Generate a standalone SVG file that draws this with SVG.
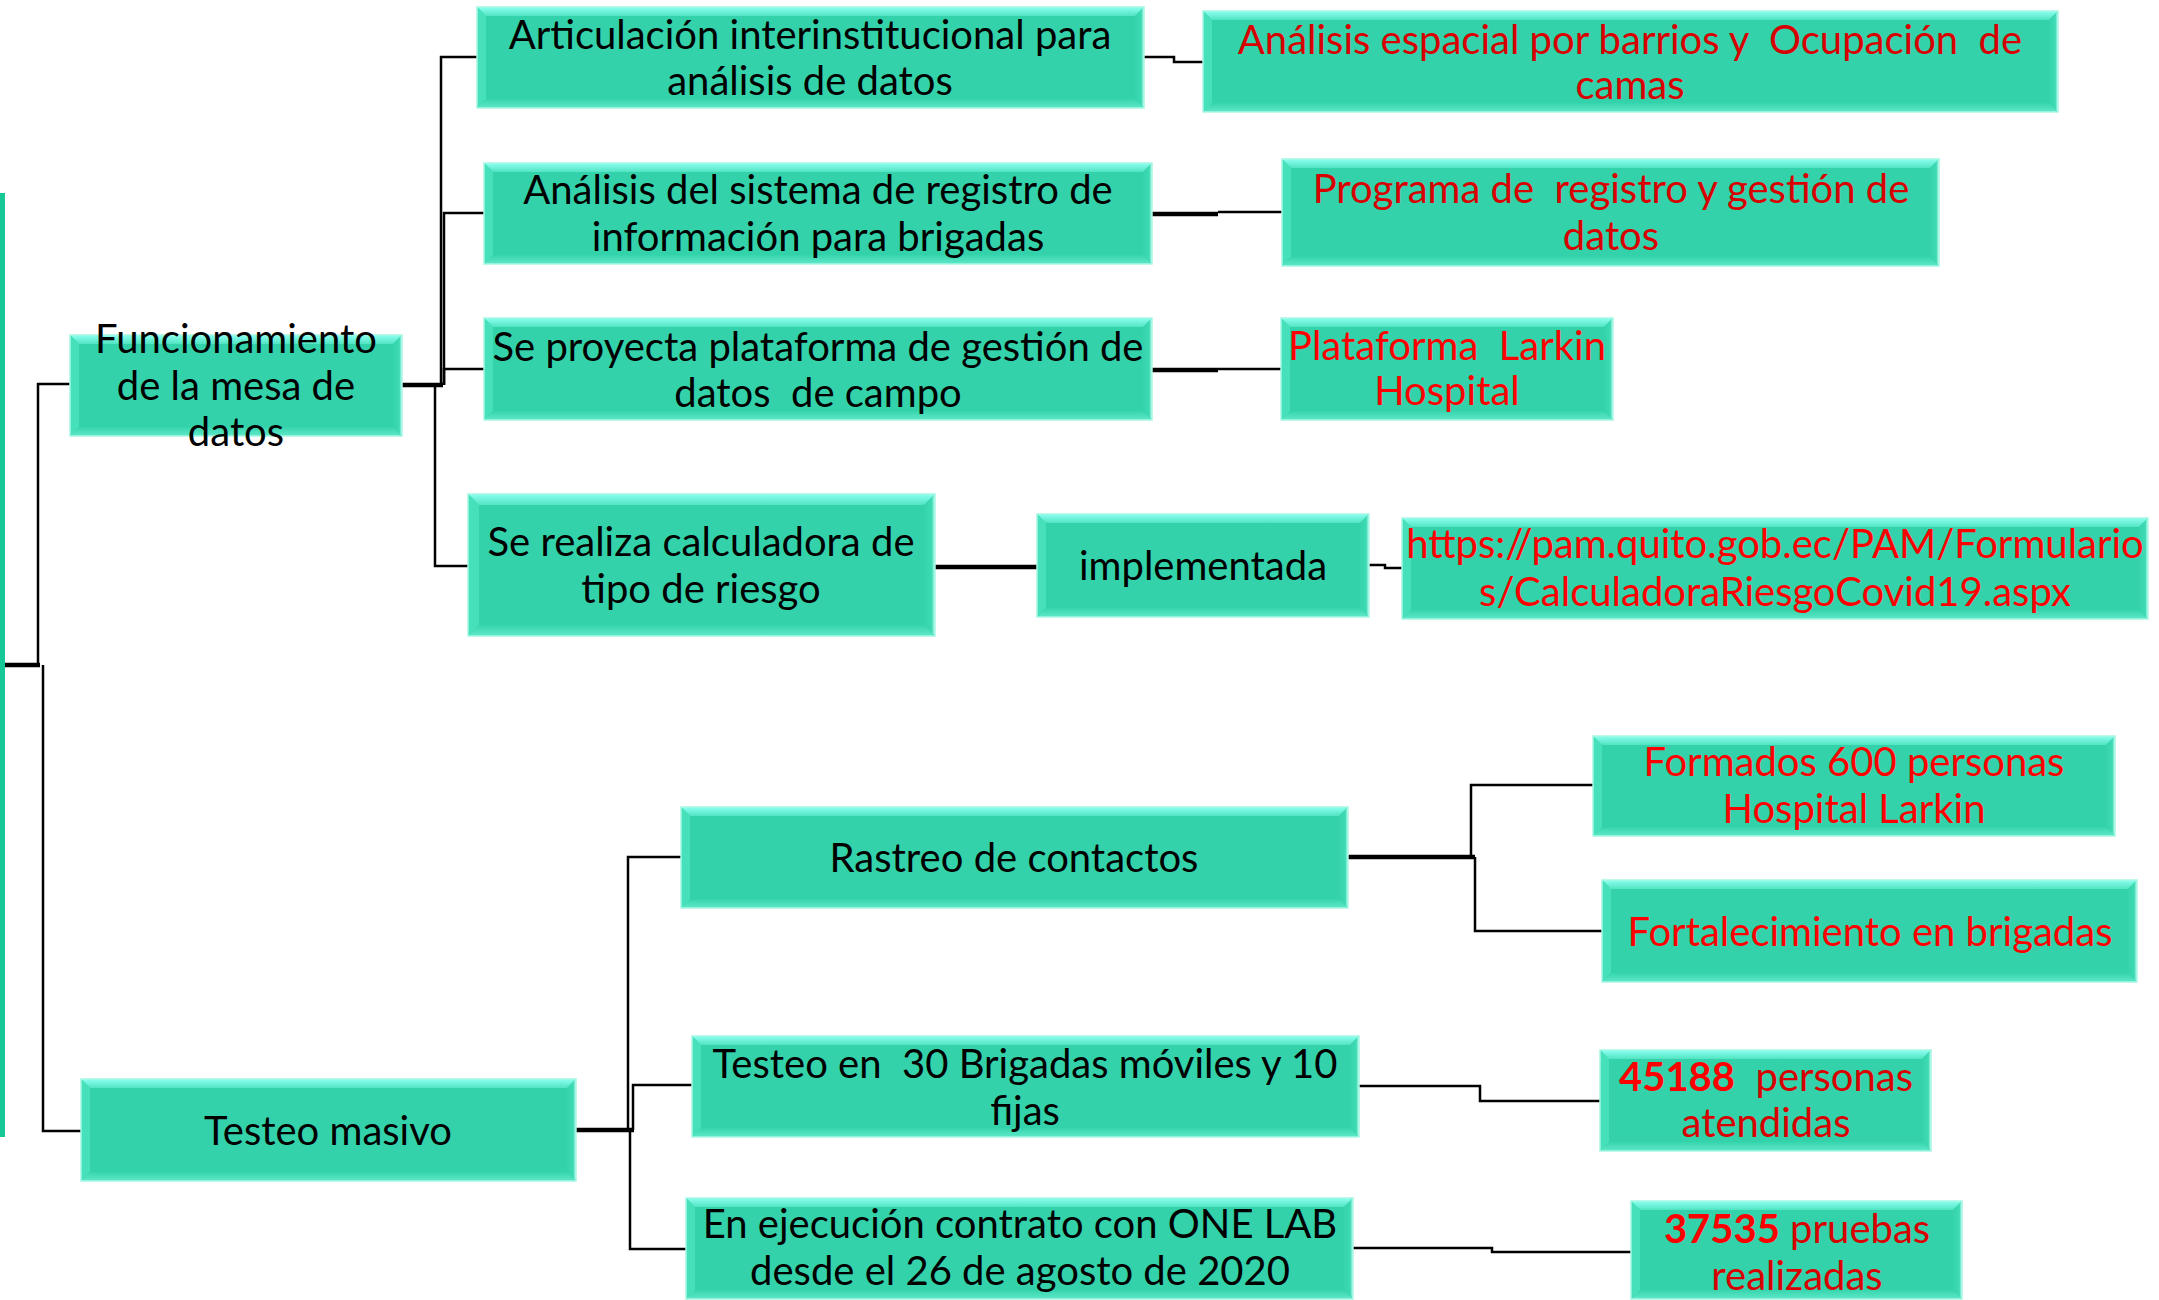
<svg xmlns="http://www.w3.org/2000/svg" width="2159" height="1300" viewBox="0 0 2159 1300">
<defs>
<linearGradient id="gt" x1="0" y1="0" x2="0" y2="1"><stop offset="0" stop-color="#8CFFF1"/><stop offset="1" stop-color="#52E4C2"/></linearGradient>
<linearGradient id="gr" x1="0" y1="0" x2="1" y2="0"><stop offset="0" stop-color="#35D4AC"/><stop offset="0.7" stop-color="#3DDAB3"/><stop offset="1" stop-color="#C8FFF6"/></linearGradient>
<linearGradient id="gb" x1="0" y1="0" x2="0" y2="1"><stop offset="0" stop-color="#36D5AD"/><stop offset="1" stop-color="#5FE8C8"/></linearGradient>
<style>
.face{fill:#33D2AA}
.bt{fill:url(#gt)}
.bl{fill:#46E0BB}
.br{fill:url(#gr)}
.bb{fill:url(#gb)}
.edge{fill:none;stroke:#A6F7E5;stroke-width:1.5}
.c{fill:none;stroke:#000;stroke-width:2.5}
.ck{fill:none;stroke:#000;stroke-width:4.5}
text{font-family:Lato,"Liberation Sans",sans-serif;font-size:40px;text-anchor:middle;white-space:pre}
.k{fill:#000}
.r{fill:#FF0000}
.rd{fill:#D80000}
.b{font-weight:bold}
</style>
</defs>
<rect x="0" y="193" width="5" height="944" fill="#17C897"/>
<g id="connectors">
<path class="ck" d="M5,665 H40"/>
<path class="c" d="M38,665 V384 H70"/>
<path class="c" d="M43,665 V1131 H81"/>
<path class="ck" d="M402,385 H443"/>
<path class="c" d="M441,385 V57 H477"/>
<path class="c" d="M444,385 V213 H484"/>
<path class="c" d="M444,385 V369 H484"/>
<path class="c" d="M435,385 V566 H468"/>
<path class="c" d="M1144,57 H1174 V62 H1203"/>
<path class="ck" d="M1152,214 H1218"/>
<path class="c" d="M1218,212 H1282"/>
<path class="ck" d="M1152,370 H1218"/>
<path class="c" d="M1218,369 H1281"/>
<path class="ck" d="M935,567 H1037"/>
<path class="c" d="M1369,565 H1385 V568 H1402"/>
<path class="ck" d="M1348,857 H1475"/>
<path class="c" d="M1471,857 V785 H1593"/>
<path class="c" d="M1475,857 V931 H1602"/>
<path class="ck" d="M576,1130 H634"/>
<path class="c" d="M628,1130 V857 H681"/>
<path class="c" d="M633,1130 V1085 H692"/>
<path class="c" d="M630,1130 V1249 H686"/>
<path class="c" d="M1359,1086 H1480 V1101 H1600"/>
<path class="c" d="M1353,1248 H1492 V1252 H1631"/>
</g>
<g id="n1">
<rect class="face" x="477" y="7" width="667" height="101"/>
<polygon class="bt" points="477,7 1144,7 1135,16 486,16"/>
<polygon class="bl" points="477,7 486,16 486,99 477,108"/>
<polygon class="br" points="1144,7 1144,108 1135,99 1135,16"/>
<polygon class="bb" points="477,108 486,99 1135,99 1144,108"/>
<rect class="edge" x="477" y="7" width="667" height="101"/>
<text class="k" transform="translate(0,3)"><tspan x="810" y="46">Articulación interinstitucional para</tspan><tspan x="810" y="92">análisis de datos</tspan></text>
</g>
<g id="n2">
<rect class="face" x="484" y="163" width="668" height="101"/>
<polygon class="bt" points="484,163 1152,163 1143,172 493,172"/>
<polygon class="bl" points="484,163 493,172 493,255 484,264"/>
<polygon class="br" points="1152,163 1152,264 1143,255 1143,172"/>
<polygon class="bb" points="484,264 493,255 1143,255 1152,264"/>
<rect class="edge" x="484" y="163" width="668" height="101"/>
<text class="k" transform="translate(0,3)"><tspan x="818" y="201">Análisis del sistema de registro de</tspan><tspan x="818" y="248">información para brigadas</tspan></text>
</g>
<g id="n3">
<rect class="face" x="484" y="318" width="668" height="102"/>
<polygon class="bt" points="484,318 1152,318 1143,327 493,327"/>
<polygon class="bl" points="484,318 493,327 493,411 484,420"/>
<polygon class="br" points="1152,318 1152,420 1143,411 1143,327"/>
<polygon class="bb" points="484,420 493,411 1143,411 1152,420"/>
<rect class="edge" x="484" y="318" width="668" height="102"/>
<text class="k" transform="translate(0,3)"><tspan x="818" y="358">Se proyecta plataforma de gestión de</tspan><tspan x="818" y="404">datos  de campo</tspan></text>
</g>
<g id="n4">
<rect class="face" x="70" y="335" width="332" height="101"/>
<polygon class="bt" points="70,335 402,335 393,344 79,344"/>
<polygon class="bl" points="70,335 79,344 79,427 70,436"/>
<polygon class="br" points="402,335 402,436 393,427 393,344"/>
<polygon class="bb" points="70,436 79,427 393,427 402,436"/>
<rect class="edge" x="70" y="335" width="332" height="101"/>
<text class="k" transform="translate(0,3)"><tspan x="236" y="350">Funcionamiento</tspan><tspan x="236" y="397">de la mesa de</tspan><tspan x="236" y="443">datos</tspan></text>
</g>
<g id="n5">
<rect class="face" x="468" y="494" width="467" height="142"/>
<polygon class="bt" points="468,494 935,494 924,505 479,505"/>
<polygon class="bl" points="468,494 479,505 479,625 468,636"/>
<polygon class="br" points="935,494 935,636 924,625 924,505"/>
<polygon class="bb" points="468,636 479,625 924,625 935,636"/>
<rect class="edge" x="468" y="494" width="467" height="142"/>
<text class="k" transform="translate(0,3)"><tspan x="701" y="553">Se realiza calculadora de</tspan><tspan x="701" y="600">tipo de riesgo</tspan></text>
</g>
<g id="n6">
<rect class="face" x="1037" y="514" width="332" height="103"/>
<polygon class="bt" points="1037,514 1369,514 1360,523 1046,523"/>
<polygon class="bl" points="1037,514 1046,523 1046,608 1037,617"/>
<polygon class="br" points="1369,514 1369,617 1360,608 1360,523"/>
<polygon class="bb" points="1037,617 1046,608 1360,608 1369,617"/>
<rect class="edge" x="1037" y="514" width="332" height="103"/>
<text class="k" x="1203" y="580">implementada</text>
</g>
<g id="n7">
<rect class="face" x="1402" y="518" width="746" height="101"/>
<polygon class="bt" points="1402,518 2148,518 2139,527 1411,527"/>
<polygon class="bl" points="1402,518 1411,527 1411,610 1402,619"/>
<polygon class="br" points="2148,518 2148,619 2139,610 2139,527"/>
<polygon class="bb" points="1402,619 1411,610 2139,610 2148,619"/>
<rect class="edge" x="1402" y="518" width="746" height="101"/>
<text class="r" transform="translate(0,3)"><tspan x="1775" y="555">https://pam.quito.gob.ec/PAM/Formulario</tspan><tspan x="1775" y="603">s/CalculadoraRiesgoCovid19.aspx</tspan></text>
</g>
<g id="n8">
<rect class="face" x="1203" y="11" width="855" height="101"/>
<polygon class="bt" points="1203,11 2058,11 2049,20 1212,20"/>
<polygon class="bl" points="1203,11 1212,20 1212,103 1203,112"/>
<polygon class="br" points="2058,11 2058,112 2049,103 2049,20"/>
<polygon class="bb" points="1203,112 1212,103 2049,103 2058,112"/>
<rect class="edge" x="1203" y="11" width="855" height="101"/>
<text class="rd" transform="translate(0,3)"><tspan x="1630" y="51">Análisis espacial por barrios y  Ocupación  de</tspan><tspan x="1630" y="96">camas</tspan></text>
</g>
<g id="n9">
<rect class="face" x="1282" y="159" width="657" height="107"/>
<polygon class="bt" points="1282,159 1939,159 1930,168 1291,168"/>
<polygon class="bl" points="1282,159 1291,168 1291,257 1282,266"/>
<polygon class="br" points="1939,159 1939,266 1930,257 1930,168"/>
<polygon class="bb" points="1282,266 1291,257 1930,257 1939,266"/>
<rect class="edge" x="1282" y="159" width="657" height="107"/>
<text class="rd" transform="translate(0,3)"><tspan x="1611" y="200">Programa de  registro y gestión de</tspan><tspan x="1611" y="247">datos</tspan></text>
</g>
<g id="n10">
<rect class="face" x="1281" y="318" width="332" height="102"/>
<polygon class="bt" points="1281,318 1613,318 1604,327 1290,327"/>
<polygon class="bl" points="1281,318 1290,327 1290,411 1281,420"/>
<polygon class="br" points="1613,318 1613,420 1604,411 1604,327"/>
<polygon class="bb" points="1281,420 1290,411 1604,411 1613,420"/>
<rect class="edge" x="1281" y="318" width="332" height="102"/>
<text class="r" transform="translate(0,3)"><tspan x="1447" y="357">Plataforma  Larkin</tspan><tspan x="1447" y="402">Hospital</tspan></text>
</g>
<g id="n11">
<rect class="face" x="681" y="807" width="667" height="101"/>
<polygon class="bt" points="681,807 1348,807 1339,816 690,816"/>
<polygon class="bl" points="681,807 690,816 690,899 681,908"/>
<polygon class="br" points="1348,807 1348,908 1339,899 1339,816"/>
<polygon class="bb" points="681,908 690,899 1339,899 1348,908"/>
<rect class="edge" x="681" y="807" width="667" height="101"/>
<text class="k" x="1014" y="872">Rastreo de contactos</text>
</g>
<g id="n12">
<rect class="face" x="1593" y="736" width="522" height="100"/>
<polygon class="bt" points="1593,736 2115,736 2106,745 1602,745"/>
<polygon class="bl" points="1593,736 1602,745 1602,827 1593,836"/>
<polygon class="br" points="2115,736 2115,836 2106,827 2106,745"/>
<polygon class="bb" points="1593,836 1602,827 2106,827 2115,836"/>
<rect class="edge" x="1593" y="736" width="522" height="100"/>
<text class="r" transform="translate(0,3)"><tspan x="1854" y="773">Formados 600 personas</tspan><tspan x="1854" y="820">Hospital Larkin</tspan></text>
</g>
<g id="n13">
<rect class="face" x="1602" y="880" width="535" height="102"/>
<polygon class="bt" points="1602,880 2137,880 2128,889 1611,889"/>
<polygon class="bl" points="1602,880 1611,889 1611,973 1602,982"/>
<polygon class="br" points="2137,880 2137,982 2128,973 2128,889"/>
<polygon class="bb" points="1602,982 1611,973 2128,973 2137,982"/>
<rect class="edge" x="1602" y="880" width="535" height="102"/>
<text class="r" x="1870" y="946">Fortalecimiento en brigadas</text>
</g>
<g id="n14">
<rect class="face" x="81" y="1079" width="495" height="102"/>
<polygon class="bt" points="81,1079 576,1079 567,1088 90,1088"/>
<polygon class="bl" points="81,1079 90,1088 90,1172 81,1181"/>
<polygon class="br" points="576,1079 576,1181 567,1172 567,1088"/>
<polygon class="bb" points="81,1181 90,1172 567,1172 576,1181"/>
<rect class="edge" x="81" y="1079" width="495" height="102"/>
<text class="k" x="328" y="1145">Testeo masivo</text>
</g>
<g id="n15">
<rect class="face" x="692" y="1036" width="667" height="101"/>
<polygon class="bt" points="692,1036 1359,1036 1350,1045 701,1045"/>
<polygon class="bl" points="692,1036 701,1045 701,1128 692,1137"/>
<polygon class="br" points="1359,1036 1359,1137 1350,1128 1350,1045"/>
<polygon class="bb" points="692,1137 701,1128 1350,1128 1359,1137"/>
<rect class="edge" x="692" y="1036" width="667" height="101"/>
<text class="k" transform="translate(0,3)"><tspan x="1025" y="1075">Testeo en  30 Brigadas móviles y 10</tspan><tspan x="1025" y="1122">fijas</tspan></text>
</g>
<g id="n16">
<rect class="face" x="1600" y="1050" width="331" height="101"/>
<polygon class="bt" points="1600,1050 1931,1050 1922,1059 1609,1059"/>
<polygon class="bl" points="1600,1050 1609,1059 1609,1142 1600,1151"/>
<polygon class="br" points="1931,1050 1931,1151 1922,1142 1922,1059"/>
<polygon class="bb" points="1600,1151 1609,1142 1922,1142 1931,1151"/>
<rect class="edge" x="1600" y="1050" width="331" height="101"/>
<text transform="translate(0,3)"><tspan x="1766" y="1088"><tspan class="r b">45188</tspan><tspan class="rd">  personas</tspan></tspan><tspan class="rd" x="1766" y="1134">atendidas</tspan></text>
</g>
<g id="n17">
<rect class="face" x="686" y="1198" width="667" height="101"/>
<polygon class="bt" points="686,1198 1353,1198 1344,1207 695,1207"/>
<polygon class="bl" points="686,1198 695,1207 695,1290 686,1299"/>
<polygon class="br" points="1353,1198 1353,1299 1344,1290 1344,1207"/>
<polygon class="bb" points="686,1299 695,1290 1344,1290 1353,1299"/>
<rect class="edge" x="686" y="1198" width="667" height="101"/>
<text class="k" transform="translate(0,3)"><tspan x="1020" y="1235">En ejecución contrato con ONE LAB</tspan><tspan x="1020" y="1282">desde el 26 de agosto de 2020</tspan></text>
</g>
<g id="n18">
<rect class="face" x="1631" y="1201" width="331" height="98"/>
<polygon class="bt" points="1631,1201 1962,1201 1953,1210 1640,1210"/>
<polygon class="bl" points="1631,1201 1640,1210 1640,1290 1631,1299"/>
<polygon class="br" points="1962,1201 1962,1299 1953,1290 1953,1210"/>
<polygon class="bb" points="1631,1299 1640,1290 1953,1290 1962,1299"/>
<rect class="edge" x="1631" y="1201" width="331" height="98"/>
<text transform="translate(0,3)"><tspan x="1797" y="1240"><tspan class="r b">37535</tspan><tspan class="rd"> pruebas</tspan></tspan><tspan class="rd" x="1797" y="1287">realizadas</tspan></text>
</g>
</svg>
